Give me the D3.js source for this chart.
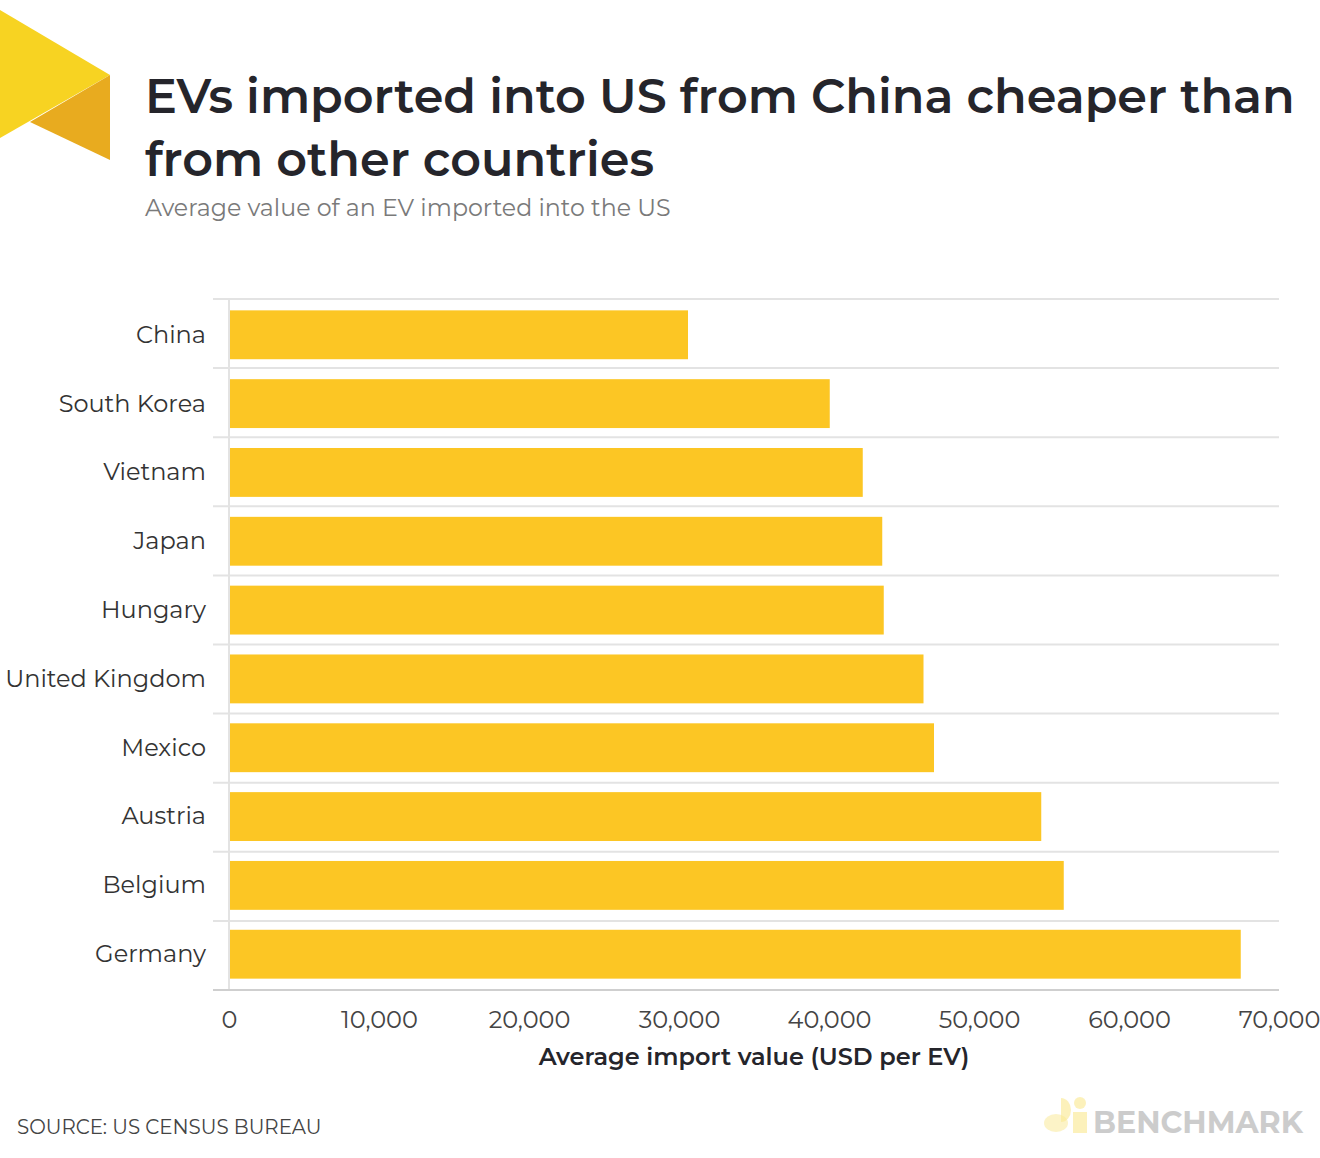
<!DOCTYPE html>
<html><head><meta charset="utf-8">
<script src="https://cdn.jsdelivr.net/npm/d3@7"></script>
<style>
body{margin:0;background:#fff;}
svg{display:block;}
</style></head>
<body>
<script>
const categories = ["China","South Korea","Vietnam","Japan","Hungary","United Kingdom","Mexico","Austria","Belgium","Germany"];
const values = [30600,40050,42250,43550,43650,46300,47000,54150,55650,67450];
const tickValues = [0,10000,20000,30000,40000,50000,60000,70000];
const title = ["EVs imported into US from China cheaper than","from other countries"];
const subtitle = "Average value of an EV imported into the US";
const xTitle = "Average import value (USD per EV)";
const source = "SOURCE: US CENSUS BUREAU";

const W=1320,H=1158;
const font="Montserrat, 'Noto Sans', 'Open Sans', sans-serif";
const svg=d3.select("body").append("svg").attr("width",W).attr("height",H);

// logo
svg.append("polygon").attr("points","0,10 110,75 0,138").attr("fill","#F7D322");
svg.append("polygon").attr("points","110,75 110,160 30,122").attr("fill","#E8AB1F");

function fitText(sel,target){
  const w=sel.node().getComputedTextLength();
  const fs=parseFloat(sel.attr("font-size"));
  sel.attr("font-size",fs*target/w);
}

const t1=svg.append("text").attr("x",145).attr("y",113).attr("font-family",font).attr("font-weight",600)
 .attr("font-size",48).attr("fill","#25252b").text(title[0]);
fitText(t1,1150);
const t2=svg.append("text").attr("x",145).attr("y",176).attr("font-family",font).attr("font-weight",600)
 .attr("font-size",t1.attr("font-size")).attr("fill","#25252b").text(title[1]);
const st=svg.append("text").attr("x",145).attr("y",216).attr("font-family",font)
 .attr("font-size",22).attr("fill","#7a7a7a").text(subtitle);
fitText(st,526);

const x=d3.scaleLinear().domain([0,70000]).range([229,1279]);
const y=d3.scaleBand().domain(categories).range([299,990]).paddingInner(0.29).paddingOuter(0.165);

// grid lines between rows
const rowH=(990-299)/categories.length;
const g=svg.append("g");
d3.range(categories.length).forEach(i=>{
  g.append("line").attr("x1",213).attr("x2",1279).attr("y1",299+i*rowH).attr("y2",299+i*rowH)
   .attr("stroke","#e3e3e3").attr("stroke-width",2);
});
g.append("line").attr("x1",229).attr("x2",229).attr("y1",299).attr("y2",990).attr("stroke","#e3e3e3").attr("stroke-width",2);

svg.append("g").selectAll("rect").data(categories).join("rect")
 .attr("x",x(0)+1).attr("y",d=>y(d)).attr("height",y.bandwidth())
 .attr("width",(d,i)=>x(values[i])-x(0)-1).attr("fill","#FCC624");

g.append("line").attr("x1",213).attr("x2",1279).attr("y1",990).attr("y2",990).attr("stroke","#cfcfcf").attr("stroke-width",2);

// y labels
svg.append("g").selectAll("text").data(categories).join("text")
 .attr("x",206).attr("y",d=>y(d)+y.bandwidth()/2).attr("dy","0.33em").attr("text-anchor","end")
 .attr("font-family",font).attr("font-size",24).attr("fill","#333").text(d=>d);

// x axis
const xa=svg.append("g").attr("transform","translate(0,990)")
 .call(d3.axisBottom(x).tickValues(tickValues).tickSize(0).tickPadding(21).tickFormat(d3.format(",")));
xa.select(".domain").remove();
xa.selectAll("text").attr("font-family",font).attr("font-size",24).attr("fill","#444").attr("dy","0.71em");

svg.append("text").attr("x",754).attr("y",1065).attr("text-anchor","middle").attr("font-family",font)
 .attr("font-weight",600).attr("font-size",24).attr("fill","#25252b").text(xTitle);

svg.append("text").attr("x",17).attr("y",1134).attr("font-family",font).attr("font-size",19.8).attr("fill","#444").text(source);

// benchmark logo
const lg=svg.append("g").attr("opacity",0.5);
lg.append("circle").attr("cx",1080).attr("cy",1103).attr("r",6).attr("fill","#F7D322").attr("opacity",0.6);
lg.append("rect").attr("x",1073).attr("y",1112).attr("width",14).attr("height",21).attr("fill","#F7D322").attr("opacity",0.6);
lg.append("path").attr("d","M1061,1098 a10,12 0 0 1 0,24 z").attr("fill","#F7D322").attr("opacity",0.6);
lg.append("path").attr("d","M1044,1123 a12,9 0 0 1 24,0 a12,9 0 0 1 -24,0z").attr("fill","#F7D322").attr("opacity",0.5);
const bt=svg.append("text").attr("x",1093).attr("y",1133).attr("font-family",font).attr("font-weight",700)
 .attr("font-size",30).attr("fill","#cccccc").text("BENCHMARK");
fitText(bt,210);
</script>
</body></html>
